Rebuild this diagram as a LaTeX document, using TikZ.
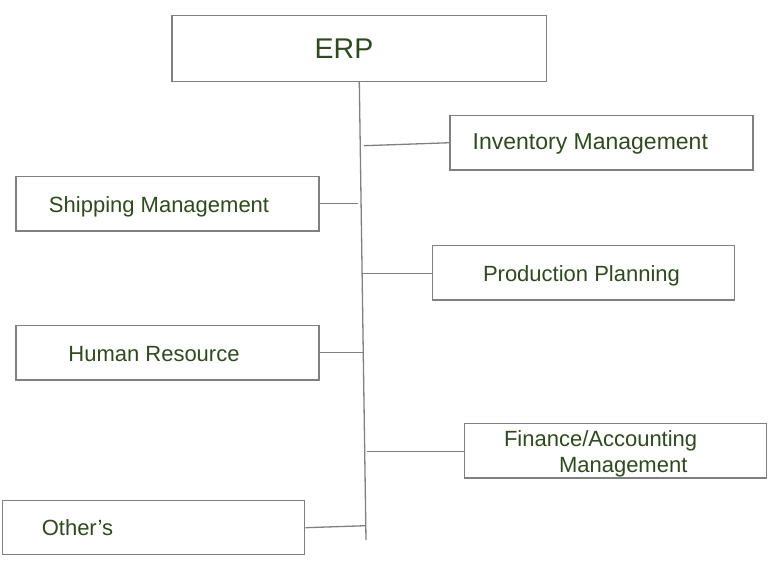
\documentclass[tikz,border=0pt]{standalone}
\usepackage{fontspec}
\setmainfont{Liberation Sans}
\definecolor{txtgreen}{RGB}{46,74,30}
\definecolor{linegray}{RGB}{128,128,128}
\begin{document}
\begin{tikzpicture}[x=1bp,y=-1bp,
  box/.style={draw=linegray, line width=1.3bp, rectangle, inner sep=0pt, minimum width=303bp, minimum height=54.3bp},
  txt/.style={text=txtgreen, inner sep=0pt, anchor=base west, font=\fontsize{22bp}{26bp}\selectfont},
  link/.style={draw=linegray, line width=1.3bp}]
\useasboundingbox (0,0) rectangle (777,572);
% boxes
\node[box, minimum width=374.7bp, minimum height=66bp] (erp) at (359.35,48.7) {};
\node[box] (inv)  at (601.5,142.75) {};
\node[box] (ship) at (167.5,203.85) {};
\node[box, minimum width=302bp] (prod) at (583.3,272.85) {};
\node[box] (hum)  at (167.5,352.85) {};
\node[box, minimum width=302.4bp, minimum height=54.7bp] (fin) at (615.5,450.65) {};
\node[box, minimum width=302bp, minimum height=54bp] (oth) at (153.7,527.7) {};
% texts
\node[txt, font=\fontsize{28.5bp}{32bp}\selectfont] (terp) at (314.5,59) {ERP};
\node[txt, font=\fontsize{23bp}{27bp}\selectfont] (tinv)  at (472.5,149.8) {Inventory Management};
\node[txt] (tship) at (48.8,212.7) {Shipping Management};
\node[txt] (tprod) at (482.8,281) {Production Planning};
\node[txt] (thum)  at (68.2,361) {Human Resource};
\node[txt] (tfinA) at (503.8,446.7) {Finance/Accounting};
\node[txt] (tfinB) at (558.8,472.3) {Management};
\node[txt] (toth)  at (41.6,535.7) {Other’s};
% trunk
\coordinate (ttop) at (359.3,81.7);
\coordinate (tbot) at (366,540);
\draw[link] (ttop) -- (tbot);
% branch points
\coordinate (binv)  at (364,145.7);
\coordinate (bship) at (357.7,203.7);
\coordinate (bprod) at (362,273.3);
\coordinate (bhum)  at (363.3,352.7);
\coordinate (bfin)  at (367,451.3);
\coordinate (both)  at (366,525.7);
\draw[link] (binv) -- (inv.west);
\draw[link] (ship.east |- bship) -- (bship);
\draw[link] (bprod) -- (prod.west |- bprod);
\draw[link] (hum.east |- bhum) -- (bhum);
\draw[link] (bfin) -- (fin.west |- bfin);
\draw[link] (oth.east) -- (both);
\end{tikzpicture}
\end{document}
